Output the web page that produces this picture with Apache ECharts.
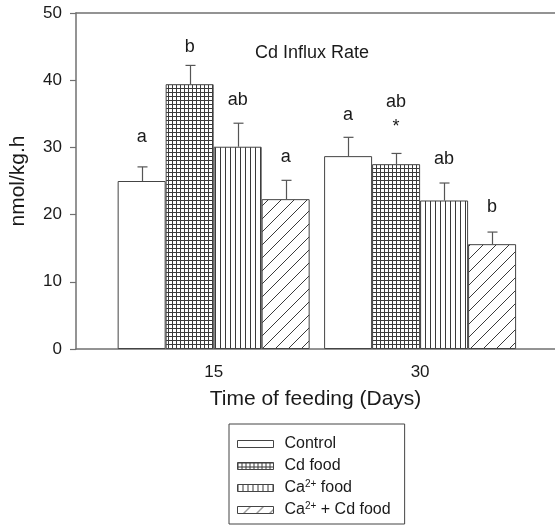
<!DOCTYPE html>
<html>
<head>
<meta charset="utf-8">
<script src="https://cdn.jsdelivr.net/npm/echarts@6/dist/echarts.min.js"></script>
<style>
html,body{margin:0;padding:0;background:#fff;}
#chart{width:555px;height:526px;}
</style>
</head>
<body>
<div id="chart"></div>
<script>
// ---- data ----
var days = [15, 30];
var seriesNames = ['Control', 'Cd food', 'Ca2+ food', 'Ca2+ + Cd food'];
var legendLabels = ['Control', 'Cd food', 'Ca{sup|2+} food', 'Ca{sup|2+} + Cd food'];
var control = [25.0, 28.7];
var cdFood = [39.4, 27.5];
var caFood = [30.1, 22.1];
var caCdFood = [22.3, 15.6];
var controlErr = [2.1, 2.8];
var cdFoodErr = [2.8, 1.6];
var caFoodErr = [3.5, 2.6];
var caCdFoodErr = [2.8, 1.8];
var controlLetters = ['a', 'a'];
var cdFoodLetters = ['b', 'ab'];
var caFoodLetters = ['ab', 'ab'];
var caCdFoodLetters = ['a', 'b'];
var controlLetterY = [31.5, 34.8];
var cdFoodLetterY = [44.9, 36.8];
var caFoodLetterY = [37.1, 28.3];
var caCdFoodLetterY = [28.6, 21.1];
var starDay = 30, starSeries = 1, starY = 33.0;
var yTicks = [0, 10, 20, 30, 40, 50];
var xTickLabels = [15, 30];

// ---- styles ----
var FONT = "'Liberation Sans', Arial, sans-serif";
var TXT = '#1a1a1a';
var AX = '#707070';
var BAR_W = 48;
var LINE = '#3a3a3a';

function makeTile(w, h, draw) {
  var c = document.createElement('canvas');
  c.width = w; c.height = h;
  var g = c.getContext('2d');
  g.fillStyle = '#fff'; g.fillRect(0, 0, w, h);
  g.strokeStyle = LINE; g.lineWidth = 1;
  draw(g, w, h);
  return c;
}
var gridTile = makeTile(4, 4, function (g) {
  g.beginPath(); g.moveTo(0.5, 0); g.lineTo(0.5, 4); g.moveTo(0, 0.5); g.lineTo(4, 0.5); g.stroke();
});
var vertTile = makeTile(5, 5, function (g) {
  g.beginPath(); g.moveTo(0.5, 0); g.lineTo(0.5, 5); g.stroke();
});
var diagTile = makeTile(13, 13, function (g) {
  g.beginPath();
  g.moveTo(-1, 14); g.lineTo(14, -1);
  g.moveTo(-2, 2); g.lineTo(2, -2);
  g.moveTo(11, 15); g.lineTo(15, 11);
  g.stroke();
});
var fills = ['#ffffff',
  { image: gridTile, repeat: 'repeat' },
  { image: vertTile, repeat: 'repeat' },
  { image: diagTile, repeat: 'repeat' }];

var values = [control, cdFood, caFood, caCdFood];
var errs = [controlErr, cdFoodErr, caFoodErr, caCdFoodErr];
var letters = [controlLetters, cdFoodLetters, caFoodLetters, caCdFoodLetters];
var letterYs = [controlLetterY, cdFoodLetterY, caFoodLetterY, caCdFoodLetterY];

var series = [];
values.forEach(function (vals, i) {
  series.push({
    name: seriesNames[i],
    type: 'bar',
    barWidth: BAR_W,
    barGap: '0%',
    data: days.map(function (d, j) { return [d, vals[j]]; }),
    itemStyle: { color: fills[i], borderColor: '#444', borderWidth: 1 },
    emphasis: { disabled: true },
    silent: true,
    z: 2
  });
});

// error bars
var errData = [];
values.forEach(function (vals, i) {
  days.forEach(function (d, j) { errData.push([d, vals[j], errs[i][j], i]); });
});
series.push({
  type: 'custom',
  silent: true,
  z: 3,
  data: errData,
  renderItem: function (params, api) {
    var i = api.value(3);
    var p0 = api.coord([api.value(0), api.value(1)]);
    var p1 = api.coord([api.value(0), api.value(1) + api.value(2)]);
    var x = Math.round(p0[0] + (i - 1.5) * BAR_W) + 0.5;
    var st = { stroke: '#555', lineWidth: 1.2 };
    return { type: 'group', children: [
      { type: 'line', shape: { x1: x, y1: p0[1], x2: x, y2: p1[1] }, style: st },
      { type: 'line', shape: { x1: x - 5, y1: p1[1], x2: x + 5, y2: p1[1] }, style: st }
    ] };
  }
});

// letters
var letterData = [], letterText = [];
values.forEach(function (vals, i) {
  days.forEach(function (d, j) { letterData.push([d, letterYs[i][j], i]); letterText.push(letters[i][j]); });
});
letterData.push([starDay, starY, starSeries]); letterText.push('*');
series.push({
  type: 'custom',
  silent: true,
  z: 4,
  data: letterData,
  renderItem: function (params, api) {
    var i = api.value(2);
    var p = api.coord([api.value(0), api.value(1)]);
    return { type: 'text', x: p[0] + (i - 1.5) * BAR_W, y: p[1],
      style: { text: letterText[params.dataIndex], fill: TXT, font: '18px ' + FONT,
        align: 'center', verticalAlign: 'middle' } };
  }
});

var chart = echarts.init(document.getElementById('chart'), null, { renderer: 'canvas' });
chart.setOption({
  animation: false,
  backgroundColor: '#fff',
  textStyle: { fontFamily: FONT },
  title: {
    text: 'Cd Influx Rate', left: 250, top: 39,
    textStyle: { fontFamily: FONT, fontSize: 18, fontWeight: 'normal', color: TXT }
  },
  grid: { left: 75, right: 0, top: 13, bottom: 177, containLabel: false },
  legend: {
    data: seriesNames,
    orient: 'vertical', left: 229, top: 424,
    padding: [11, 14, 5, 8], itemGap: 4,
    itemWidth: 36, itemHeight: 7,
    height: 120,
    borderColor: '#444', borderWidth: 1,
    icon: 'rect',
    selectedMode: false,
    itemStyle: { borderWidth: 1, borderColor: '#444' },
    formatter: function (name) { return legendLabels[seriesNames.indexOf(name)]; },
    textStyle: {
      fontFamily: FONT, fontSize: 16, color: TXT, lineHeight: 18, padding: [0, 0, 0, 6],
      rich: { sup: { fontSize: 10, verticalAlign: 'top', lineHeight: 14, fontFamily: FONT, color: TXT } }
    }
  },
  xAxis: [{
    type: 'value', min: 5, max: 39.8,
    axisLine: { lineStyle: { color: AX, width: 1.5 } },
    axisTick: { show: false },
    splitLine: { show: false },
    axisLabel: { customValues: xTickLabels, color: TXT, fontSize: 17, margin: 15, fontFamily: FONT },
    name: 'Time of feeding (Days)', nameLocation: 'middle', nameGap: 40,
    nameTextStyle: { fontSize: 21, color: TXT, fontFamily: FONT }
  }, {
    type: 'value', min: 5, max: 39.8, position: 'top',
    axisLine: { show: true, lineStyle: { color: AX, width: 1.5 } },
    axisTick: { show: false }, axisLabel: { show: false }, splitLine: { show: false }
  }],
  yAxis: {
    type: 'value', min: 0, max: 50, interval: 10,
    axisLine: { show: true, lineStyle: { color: AX, width: 1.5 } },
    axisTick: { show: true, inside: false, length: 6, lineStyle: { color: AX, width: 1.2 } },
    splitLine: { show: false },
    axisLabel: { color: TXT, fontSize: 17, margin: 14, fontFamily: FONT },
    name: 'nmol/kg.h', nameLocation: 'middle', nameGap: 47,
    nameTextStyle: { fontSize: 21, color: TXT, fontFamily: FONT }
  },
  series: series
});
</script>
</body>
</html>
